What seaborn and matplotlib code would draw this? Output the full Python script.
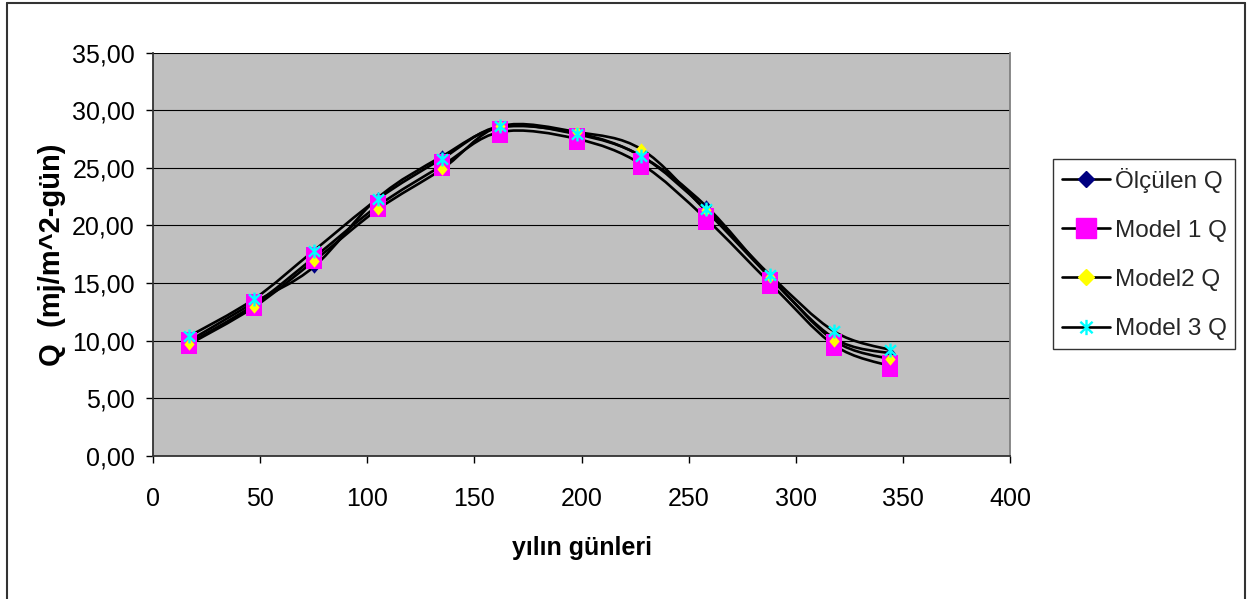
import matplotlib
matplotlib.use("Agg")
import matplotlib.pyplot as plt
import seaborn as sns
import numpy as np
import pandas as pd
from matplotlib.path import Path
from matplotlib.patches import PathPatch
from matplotlib.lines import Line2D
from matplotlib.ticker import FuncFormatter

# ---- data ----
days = [17, 47, 75, 105, 135, 162, 198, 228, 258, 288, 318, 344]
olculen_q = [10.0, 13.3, 16.4, 22.4, 26.0, 28.5, 28.0, 26.0, 21.7, 15.5, 10.2, 8.9]
model1_q = [9.8, 13.1, 17.2, 21.7, 25.2, 28.1, 27.5, 25.3, 20.6, 15.0, 9.6, 7.8]
model2_q = [9.7, 12.9, 16.9, 21.4, 24.9, 28.6, 28.1, 26.6, 21.3, 15.5, 10.0, 8.4]
model3_q = [10.4, 13.6, 17.8, 22.3, 25.8, 28.6, 27.9, 26.0, 21.4, 15.7, 10.8, 9.2]
series_names = ["Ölçülen Q", "Model 1 Q", "Model2 Q", "Model 3 Q"]
x_ticks = [0, 50, 100, 150, 200, 250, 300, 350, 400]
y_ticks = [0, 5, 10, 15, 20, 25, 30, 35]
x_label = "yılın günleri"
y_label = "Q  (mj/m^2-gün)"

sns.set_theme(style="white")
plt.rcParams["font.family"] = ["Liberation Sans", "DejaVu Sans"]

fig = plt.figure(figsize=(12.56, 5.99), dpi=100)
W, H = 1256, 599
ax = fig.add_axes([153 / W, 1 - 456 / H, (1010 - 153) / W, (456 - 52.5) / H])
ax.set_facecolor("#C0C0C0")

# markers
diamond = [(0, -0.6), (0.5, 0), (0, 0.6), (-0.5, 0), (0, -0.6)]
rect = [(-0.4, -0.5), (0.4, -0.5), (0.4, 0.5), (-0.4, 0.5), (-0.4, -0.5)]
star = Path([(0, -1), (0, 1), (-0.8, -0.75), (0.8, 0.75), (-0.8, 0.75), (0.8, -0.75)],
            [Path.MOVETO, Path.LINETO, Path.MOVETO, Path.LINETO, Path.MOVETO, Path.LINETO])

styles = [
    dict(marker=diamond, color="#000080", s=80, lw=0),
    dict(marker=rect, color="#FF00FF", s=230, lw=0),
    dict(marker=diamond, color="#FFFF00", s=80, lw=0),
    dict(marker=star, color="#00FFFF", s=100, lw=1.7),
]

all_vals = [olculen_q, model1_q, model2_q, model3_q]


def smooth_path(xs, ys):
    pts = np.column_stack([xs, ys]).astype(float)
    n = len(pts)
    verts = [pts[0]]
    codes = [Path.MOVETO]
    for i in range(n - 1):
        p0 = pts[i - 1] if i > 0 else pts[i]
        p1 = pts[i]
        p2 = pts[i + 1]
        p3 = pts[i + 2] if i + 2 < n else pts[i + 1]
        c1 = p1 + (p2 - p0) / 6.0
        c2 = p2 - (p3 - p1) / 6.0
        verts += [c1, c2, p2]
        codes += [Path.CURVE4] * 3
    return Path(verts, codes)


# smoothed black lines
for vals in all_vals:
    ax.add_patch(PathPatch(smooth_path(days, vals), facecolor="none",
                           edgecolor="black", lw=1.9, zorder=3))

# markers via seaborn
for name, vals, st in zip(series_names, all_vals, styles):
    df = pd.DataFrame({"day": days, "q": vals})
    if st["lw"] > 0:
        sns.scatterplot(data=df, x="day", y="q", ax=ax, marker=st["marker"],
                        s=st["s"], color=st["color"], edgecolor=st["color"],
                        linewidth=st["lw"], zorder=4, legend=False)
    else:
        sns.scatterplot(data=df, x="day", y="q", ax=ax, marker=st["marker"],
                        s=st["s"], color=st["color"], linewidth=0, zorder=4,
                        legend=False)

ax.set_xlim(0, 400)
ax.set_ylim(0, 35)
ax.set_xticks(x_ticks)
ax.set_yticks(y_ticks)
ax.yaxis.set_major_formatter(FuncFormatter(lambda v, p: f"{v:.2f}".replace(".", ",")))
ax.grid(axis="y", color="black", lw=0.8)
ax.grid(axis="x", visible=False)
ax.set_axisbelow(True)

for side in ["left", "bottom"]:
    ax.spines[side].set_color("#333333")
    ax.spines[side].set_linewidth(1.3)
ax.spines["top"].set_visible(False)
ax.spines["right"].set_color("#808080")
ax.spines["right"].set_linewidth(1.3)

ax.tick_params(axis="both", direction="out", length=5, width=1, color="black",
               labelsize=18, labelcolor="black", bottom=True, left=True)
ax.tick_params(axis="x", pad=17)
ax.tick_params(axis="y", pad=8)

ax.set_xlabel(x_label, fontsize=18, fontweight="bold", color="black")
ax.xaxis.label.set_va("center")
ax.xaxis.set_label_coords(0.5, -0.228)
ax.set_ylabel(y_label, fontsize=21, fontweight="bold", color="black")
ax.yaxis.label.set_va("center")
ax.yaxis.set_label_coords(-0.118, 0.5)

# legend
handles = []
hstyles = [
    dict(marker="D", markersize=8, markerfacecolor="#000080", markeredgecolor="#000080"),
    dict(marker="s", markersize=14, markerfacecolor="#FF00FF", markeredgecolor="#FF00FF"),
    dict(marker="D", markersize=8, markerfacecolor="#FFFF00", markeredgecolor="#FFFF00"),
    dict(marker=star, markersize=11, markerfacecolor="#00FFFF", markeredgecolor="#00FFFF",
         markeredgewidth=1.7),
]
for name, hs in zip(series_names, hstyles):
    handles.append(Line2D([], [], color="black", lw=1.9, label=name, **hs))
leg = fig.legend(handles=handles, loc="upper left",
                 bbox_to_anchor=(1053 / W, 1 - 159 / H), bbox_transform=fig.transFigure,
                 borderaxespad=0, frameon=True, fancybox=False, fontsize=17.5,
                 handlelength=2.0, handletextpad=0.2, labelspacing=1.12,
                 borderpad=0.35)
leg.get_frame().set_edgecolor("black")
leg.get_frame().set_linewidth(1.0)
leg.get_frame().set_facecolor("white")

# outer chart border
for (x0, y0, x1, y1) in [(7, 3, 7, 600), (7, 3, 1245, 3), (1245, 3, 1245, 600)]:
    fig.add_artist(Line2D([x0 / W, x1 / W], [1 - y0 / H, 1 - y1 / H],
                          transform=fig.transFigure, color="#333333", lw=1.5))

fig.savefig("out.png", dpi=100)
